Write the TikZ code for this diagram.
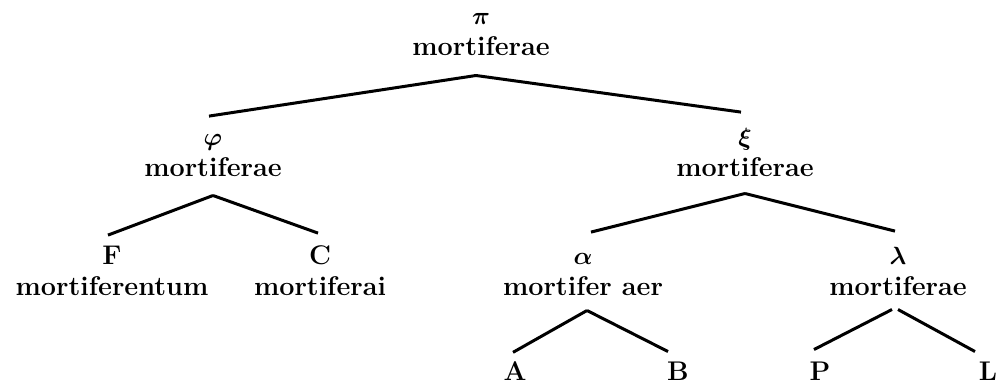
\documentclass[tikz,border=0pt]{standalone}
\usepackage{bm}
\begin{document}
\begin{tikzpicture}[x=1pt,y=-1pt,
        ms/.style={align=center,font=\fontsize{27}{31}\selectfont\bfseries,inner sep=0pt},
        branch/.style={line width=3pt}]
    \useasboundingbox (0,0) rectangle (1003,385);
    % codices
    \node [ms] (pi) at (481,34.3) {\strut$\bm{\pi}$\\mortiferae\strut};
    \node [ms] (phi) at (213,154.3) {\strut$\bm{\varphi}$\\mortiferae\strut};
    \node [ms] (xi) at (745,154.3) {\strut$\bm{\xi}$\\mortiferae\strut};
    \node [ms] (F) at (112,273.3) {\strut F\\mortiferentum\strut};
    \node [ms] (C) at (320,273.3) {\strut C\\mortiferai\strut};
    \node [ms] (alpha) at (583,273.3) {\strut$\bm{\alpha}$\\mortifer aer\strut};
    \node [ms] (lambda) at (898,273.3) {\strut$\bm{\lambda}$\\mortiferae\strut};
    \node [ms] (A) at (515,371) {A};
    \node [ms] (B) at (678,371) {B};
    \node [ms] (P) at (820,371) {P};
    \node [ms] (L) at (988,371) {L};
    % stemma
    \draw [branch] ([xshift=-5pt,yshift=-10pt]pi.south) -- ([xshift=-4pt,yshift=7pt]phi.north);
    \draw [branch] ([xshift=-5pt,yshift=-10pt]pi.south) -- ([xshift=-4pt,yshift=11pt]xi.north);
    \draw [branch] ([yshift=-10pt]phi.south) -- ([xshift=-4pt,yshift=7pt]F.north);
    \draw [branch] ([yshift=-10pt]phi.south) -- ([xshift=-2pt,yshift=9pt]C.north);
    \draw [branch] ([yshift=-8pt]xi.south) -- ([xshift=8pt,yshift=10pt]alpha.north);
    \draw [branch] ([yshift=-8pt]xi.south) -- ([xshift=-3pt,yshift=11pt]lambda.north);
    \draw [branch] ([xshift=4pt,yshift=-6pt]alpha.south) -- ([xshift=-2pt,yshift=9pt]A.north);
    \draw [branch] ([xshift=4pt,yshift=-6pt]alpha.south) -- ([xshift=-10pt,yshift=10pt]B.north);
    \draw [branch] ([xshift=-6pt,yshift=-5pt]lambda.south) -- ([xshift=-6pt,yshift=12pt]P.north);
    \draw [branch] ([yshift=-5pt]lambda.south) -- ([xshift=-13pt,yshift=10pt]L.north);
\end{tikzpicture}
\end{document}
